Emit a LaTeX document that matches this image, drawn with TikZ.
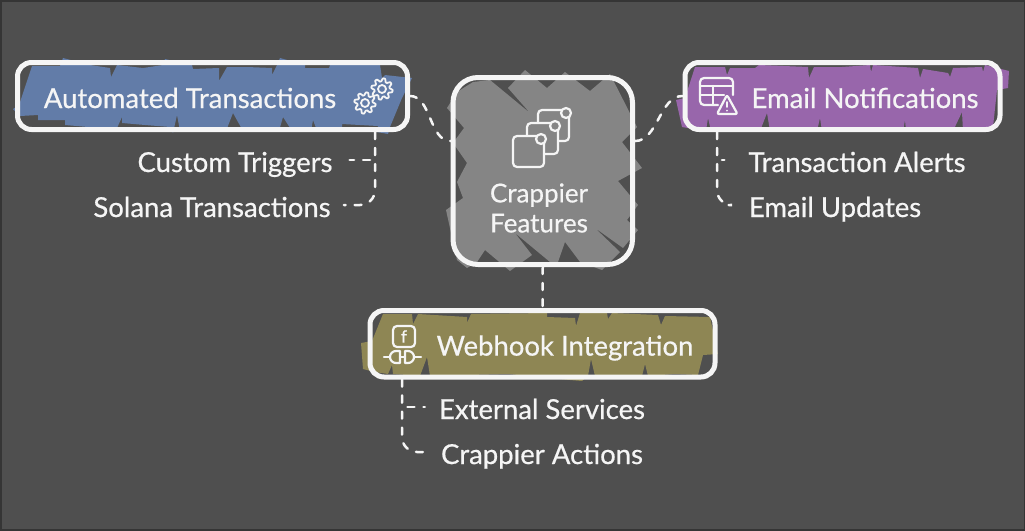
\documentclass[tikz,border=0pt]{standalone}
\usepackage{fontspec}
\setmainfont[RawFeature={embolden=0.6}]{Lato}
\definecolor{backgr}{HTML}{4F4F4F}
\definecolor{edgegr}{HTML}{353535}
\definecolor{chalk}{HTML}{F5F5F5}
\definecolor{autofill}{HTML}{627CA8}
\definecolor{mailfill}{HTML}{9866AB}
\definecolor{hookfill}{HTML}{8E8654}
\definecolor{featfill}{HTML}{858585}

\begin{document}
\begin{tikzpicture}[
x=1pt,y=-1pt,
featbox/.style={
  draw=chalk,
  line width=5pt,
  rounded corners=14pt,
  inner sep=0pt
  },
boxtext/.style={text=chalk,font=\fontsize{27.5}{30}\selectfont,inner sep=0pt},
leaftext/.style={text=chalk,font=\fontsize{27.5}{30}\selectfont,inner ysep=0pt,text height=24pt,text depth=0pt},
dashlink/.style={draw=chalk,line width=2.5pt,line cap=round,dash pattern=on 7pt off 9pt},
iconline/.style={draw=chalk,line width=2.2pt,line join=round,line cap=round}
]
\useasboundingbox (0,0) rectangle (1025,530);
\fill[backgr] (0,0) rectangle (1025,530);
\draw[edgegr,line width=3pt] (0,0) rectangle (1025,530);

% scribbled fills
\fill[autofill] (13,109) -- (19,105) -- (32,66) -- (60,66) -- (63,58) -- (90,65) -- (110,68) -- (111,77) -- (117,65) -- (143,68) -- (163,65) -- (165,59) -- (192,65) -- (193,69) -- (219,68) -- (219,81) -- (227,67) -- (247,67) -- (272,68) -- (272,75) -- (277,65) -- (280,58) -- (305,65) -- (305,68) -- (329,68) -- (330,65) -- (380,65) -- (382,78) -- (385,75) -- (412,78) -- (402,98) -- (390,127) -- (388,134) -- (377,132) -- (378,126) -- (342,124) -- (342,128) -- (316,128) -- (313,120) -- (311,131) -- (292,131) -- (283,117) -- (279,131) -- (243,131) -- (233,113) -- (226,131) -- (180,131) -- (177,115) -- (173,133) -- (170,127) -- (145,125) -- (122,123) -- (122,117) -- (117,128) -- (88,127) -- (65,125) -- (65,120) -- (38,120) -- (38,115) -- (20,116) -- cycle;
\fill[mailfill] (676,100) -- (685,98) -- (695,67) -- (725,67) -- (727,75) -- (730,68) -- (755,68) -- (759,65) -- (808,67) -- (809,78) -- (814,67) -- (842,67) -- (870,65) -- (871,72) -- (873,65) -- (918,68) -- (920,78) -- (923,69) -- (948,73) -- (950,77) -- (953,68) -- (982,67) -- (983,72) -- (985,65) -- (1009,71) -- (1008,88) -- (997,90) -- (993,127) -- (990,131) -- (963,131) -- (962,112) -- (953,131) -- (906,131) -- (905,120) -- (903,131) -- (822,131) -- (820,118) -- (817,131) -- (770,131) -- (767,113) -- (760,131) -- (711,131) -- (708,118) -- (706,131) -- (682,127) -- cycle;
\fill[hookfill] (361,343) -- (372,341) -- (383,314) -- (412,314) -- (413,324) -- (418,314) -- (467,317) -- (467,323) -- (471,314) -- (547,313) -- (547,317) -- (575,318) -- (576,326) -- (580,313) -- (607,313) -- (608,319) -- (612,313) -- (658,315) -- (661,325) -- (665,316) -- (710,317) -- (718,354) -- (703,355) -- (698,375) -- (675,374) -- (648,376) -- (645,364) -- (642,376) -- (595,376) -- (591,359) -- (588,376) -- (582,381) -- (570,380) -- (508,374) -- (430,376) -- (427,357) -- (420,376) -- (393,374) -- (392,365) -- (388,374) -- (375,372) -- (363,369) -- cycle;
\fill[featfill] (473,82) -- (490,80) -- (530,113) -- (508,88) -- (525,70) -- (547,88) -- (565,72) -- (590,91) -- (610,74) -- (637,127) -- (622,142) -- (642,168) -- (618,181) -- (638,205) -- (627,220) -- (638,230) -- (623,248) -- (595,228) -- (620,252) -- (602,270) -- (580,262) -- (565,242) -- (558,262) -- (550,262) -- (515,233) -- (532,255) -- (510,271) -- (485,250) -- (477,262) -- (467,268) -- (457,260) -- (446,210) -- (463,198) -- (457,182) -- (467,163) -- (453,143) -- (464,128) -- (453,115) -- (447,108) -- (457,92) -- cycle;

\node[featbox,minimum width=390pt,minimum height=67pt] (autotx) at (212.5,96) {};
\node[featbox,minimum width=315pt,minimum height=67pt] (mailnote) at (842.5,96) {};
\node[featbox,minimum width=345pt,minimum height=66.5pt] (hookint) at (542.5,343.75) {};
\node[featbox,rounded corners=25pt,minimum width=179.5pt,minimum height=187pt] (feat) at (542.75,171) {};

\node[boxtext] (autotxt) at (190,98) {Automated Transactions};
\node[boxtext] (mailtxt) at (865,98) {Email Notifications};
\node[boxtext] (hooktxt) at (565,348) {Webhook Integration};
\node[boxtext,font=\fontsize{26}{30}\selectfont,align=center] (feattxt) at (539,208) {Crappier\\Features};

\node[leaftext,inner xsep=17pt] (trig) at (235,160) {Custom Triggers};
\node[leaftext,inner xsep=13pt] (solana) at (212,205) {Solana Transactions};
\node[leaftext,inner xsep=24pt] (alerts) at (857,160) {Transaction Alerts};
\node[leaftext,inner xsep=20pt] (updates) at (835,205) {Email Updates};
\node[leaftext,inner xsep=14pt] (extserv) at (542,407) {External Services};
\node[leaftext,inner xsep=14pt] (actions) at (542,452) {Crappier Actions};

\coordinate (autotap) at (375,0 |- autotx.south);
\coordinate (mailtap) at (717,0 |- mailnote.south);
\coordinate (hooktap) at (402,0 |- hookint.south);

\path[dashlink]
	(autotx.east) edge[out=0,in=180,looseness=0.9] (feat.162)
	(feat.18) edge[out=0,in=180,looseness=0.9] (mailnote.west)
	(feat.south) edge (hookint.north);
\draw[dashlink,rounded corners=2pt] (autotap) |- (trig.east);
\draw[dashlink,rounded corners=15pt] (autotap) |- (solana.east);
\draw[dashlink,rounded corners=2pt] (mailtap) |- (alerts.west);
\draw[dashlink,rounded corners=15pt] (mailtap) |- (updates.west);
\draw[dashlink,rounded corners=2pt] (hooktap) |- (extserv.west);
\draw[dashlink,rounded corners=15pt] (hooktap) |- (actions.west);

% gears
\foreach \Gx/\Gy in {365/103,382/89} {
  \draw[iconline,line width=1.8pt,fill=autofill] plot[domain=0:360,samples=65] ({\Gx+(9.2+1.5*sign(sin(8*\x)))*cos(\x)},{\Gy+(9.2+1.5*sign(sin(8*\x)))*sin(\x)}) -- cycle;
  \draw[iconline,line width=1.8pt] (\Gx,\Gy) circle (4);
}
% stacked cards
\foreach \Cx/\Cy in {538/110,527/123,513/136} {
  \draw[iconline,fill=featfill,rounded corners=4pt] (\Cx,\Cy) rectangle ++(31,31);
  \draw[iconline,fill=featfill] (\Cx+28,\Cy+3) circle (5);
}
% table and warning
\draw[iconline,rounded corners=4pt] (733,95) -- (733,78) -- (700,78) -- (700,105) -- (718,105);
\draw[iconline] (700,86) -- (733,86) (700,95) -- (724,95) (713,86) -- (713,105);
\draw[iconline,fill=mailfill,rounded corners=2pt] (727,95) -- (737.5,114) -- (717,114) -- cycle;
\draw[iconline,line width=1.8pt] (727,102) -- (727,107) (727,110.5) -- (727,110.6);
% function and plug
\draw[iconline,rounded corners=4pt] (393,326) rectangle (415,347);
\node[text=chalk,font=\fontsize{17}{17}\selectfont,inner sep=0pt] (hookf) at (404,336.5) {f};
\draw[iconline] (384,357) -- (390,357) (414,357) -- (421,357) (400,357) -- (405,357);
\draw[iconline] (400,351) -- (396,351) arc (-90:-270:6) -- (400,363) -- cycle;
\draw[iconline] (405,351) -- (408,351) arc (-90:90:6) -- (405,363) -- cycle;
\end{tikzpicture}
\end{document}
